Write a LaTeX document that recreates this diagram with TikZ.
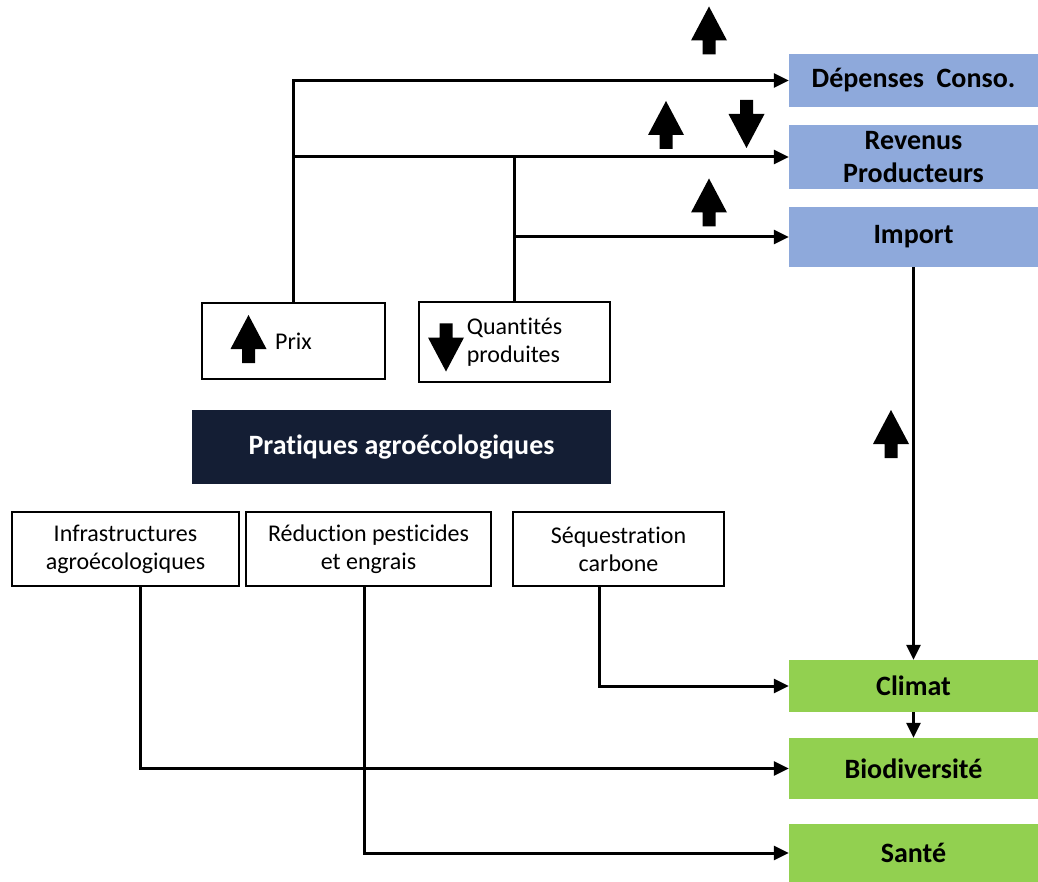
\documentclass[tikz,border=0pt]{standalone}
\usepackage{fontspec}
\setmainfont{Carlito}[RawFeature={-liga;-clig;-dlig;-calt}]
\usepackage{tikz}
\usetikzlibrary{arrows.meta}
\definecolor{bleuboite}{RGB}{142,169,219}
\definecolor{vertboite}{RGB}{146,208,80}
\definecolor{marine}{RGB}{20,30,52}
\tikzstyle{fleche} = [-{Triangle[length=15pt,width=14pt]},line width=3pt]
\tikzstyle{trait} = [line width=3pt]
\tikzstyle{cadre} = [draw,line width=1.5pt,inner sep=0pt,align=center,font=\fontsize{24}{28}\selectfont]
\tikzstyle{bleu} = [fill=bleuboite,inner sep=0pt,align=center,minimum width=249pt,font=\fontsize{28}{33}\selectfont\bfseries]
\tikzstyle{vert} = [fill=vertboite,inner sep=0pt,align=center,minimum width=249pt,font=\fontsize{28}{33}\selectfont\bfseries]
\tikzset{
	hausse/.pic={\fill (0,-24) -- (18,10) -- (6.5,10) -- (6.5,24) -- (-6.5,24) -- (-6.5,10) -- (-18,10) -- cycle;},
	baisse/.pic={\fill (0,24) -- (18,-10) -- (6.5,-10) -- (6.5,-24) -- (-6.5,-24) -- (-6.5,-10) -- (-18,-10) -- cycle;}
}

\begin{document}
\begin{tikzpicture}[x=1pt,y=-1pt]

	\useasboundingbox (0,0) rectangle (1038,882);

	\node[bleu,minimum height=53pt] (depenses) at (913.5,80.5) {Dépenses~~Conso.};
	\node[bleu,minimum height=64pt] (revenus) at (913.5,157) {Revenus\\Producteurs};
	\node[bleu,minimum height=60pt] (import) at (913.5,237) {Import};

	\node[vert,minimum height=52pt] (climat) at (913.5,686) {Climat};
	\node[vert,minimum height=61pt] (biodiv) at (913.5,768.5) {Biodiversité};
	\node[vert,minimum height=58pt] (sante) at (913.5,853) {Santé};

	\node[fill=marine,text=white,minimum width=419pt,minimum height=74pt,font=\fontsize{28}{33}\selectfont\bfseries] (pratiques) at (401.5,447) {Pratiques agroécologiques};

	\node[cadre,minimum width=183pt,minimum height=76pt] (prix) at (293.5,341) {Prix};
	\node[cadre,align=left,minimum width=191pt,minimum height=80pt] (quant) at (514.5,342) {Quantités\\produites};

	\node[cadre,minimum width=227pt,minimum height=74pt] (infra) at (125.5,549) {Infrastructures\\agroécologiques};
	\node[cadre,minimum width=245pt,minimum height=74pt] (reduc) at (368.5,549) {Réduction pesticides\\et engrais};
	\node[cadre,minimum width=211pt,minimum height=74pt] (seq) at (618.5,549) {Séquestration\\carbone};

	\draw[fleche] (prix.north) |- (depenses.west);
	\draw[fleche] (prix.north) |- (revenus.west);
	\draw[trait] (quant.north) -- (quant.north |- revenus.west);
	\draw[fleche] (quant.north) |- (import.west);

	\draw[fleche] (import.south) -- (climat.north);
	\draw[fleche] (climat.south) -- (biodiv.north);

	\draw[fleche] ([xshift=-19.5pt]seq.south) |- (climat.west);
	\draw[fleche] ([xshift=14.5pt]infra.south) |- (biodiv.west);
	\draw[fleche] ([xshift=-4.5pt]reduc.south) |- (sante.west);

	\pic at (709,30.5) {hausse};
	\pic at (666,125) {hausse};
	\pic at (746.5,124) {baisse};
	\pic at (709,202.5) {hausse};
	\pic at (891,434) {hausse};
	\pic at (248.5,339) {hausse};
	\pic at (446,347.5) {baisse};

\end{tikzpicture}
\end{document}
